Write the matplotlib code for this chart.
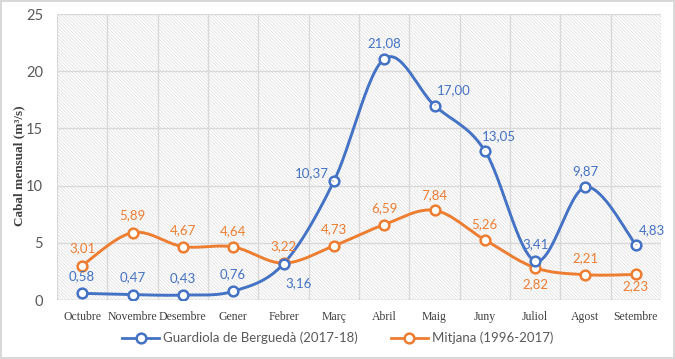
import numpy as np
import matplotlib
matplotlib.use("Agg")
import matplotlib.pyplot as plt
from matplotlib.lines import Line2D

# monthly discharge data
mesos = ["Octubre", "Novembre", "Desembre", "Gener", "Febrer", "Març",
         "Abril", "Maig", "Juny", "Juliol", "Agost", "Setembre"]
guardiola = [0.58, 0.47, 0.43, 0.76, 3.16, 10.37, 21.08, 17.00, 13.05, 3.41, 9.87, 4.83]
mitjana = [3.01, 5.89, 4.67, 4.64, 3.22, 4.73, 6.59, 7.84, 5.26, 2.82, 2.21, 2.23]
nom_guardiola = "Guardiola de Berguedà (2017-18)"
nom_mitjana = "Mitjana (1996-2017)"

# label offsets in pixels (dx, dy) and whether to draw a leader line
off_blue = [(0, 17), (0, 17), (0, 17), (0, 17), (15, -19), (-22, 8),
            (0, 16), (19, 15), (14, 15), (0, 17), (0, 16), (16, 15)]
lead_blue = [False, False, False, False, True, True, False, True, True, False, False, True]
off_orange = [(0, 17), (0, 17), (0, 16), (0, 16), (0, 17), (0, 17),
              (0, 16), (0, 15), (0, 16), (0, -16), (0, 17), (0, -12)]

BLUE = "#4472C4"
ORANGE = "#ED7D31"
GRID = "#D9D9D9"


def smooth(y, n=30):
    # Catmull-Rom style smoothing like Excel's smoothed lines
    y = np.asarray(y, float)
    x = np.arange(len(y), dtype=float)
    pts = np.column_stack([x, y])
    out = []
    for i in range(len(pts) - 1):
        p0 = pts[i - 1] if i > 0 else pts[i]
        p1 = pts[i]
        p2 = pts[i + 1]
        p3 = pts[i + 2] if i + 2 < len(pts) else pts[i + 1]
        c1 = p1 + (p2 - p0) / 6.0
        c2 = p2 - (p3 - p1) / 6.0
        t = np.linspace(0, 1, n)[:, None]
        seg = ((1 - t) ** 3) * p1 + 3 * ((1 - t) ** 2) * t * c1 + 3 * (1 - t) * t ** 2 * c2 + t ** 3 * p2
        out.append(seg if i == 0 else seg[1:])
    s = np.vstack(out)
    return s[:, 0], s[:, 1]


plt.rcParams["hatch.color"] = "#DCDCDC"
plt.rcParams["hatch.linewidth"] = 0.5

fig = plt.figure(figsize=(6.75, 3.59), dpi=100)
fig.patch.set_edgecolor("#D9D9D9")
fig.patch.set_linewidth(1.5)
ax = fig.add_axes([57 / 675, 1 - 300 / 359, (661 - 57) / 675, (300 - 14) / 359])
ax.patch.set_facecolor("white")
ax.patch.set_hatch("\\\\\\\\\\\\\\\\\\\\")
ax.patch.set_edgecolor("#DCDCDC")
ax.patch.set_linewidth(0)

x = np.arange(len(mesos))
ax.set_xlim(-0.5, len(mesos) - 0.5)
ax.set_ylim(0, 25)
ax.set_yticks(range(0, 26, 5))
ax.set_xticks(x)
ax.set_xticklabels(mesos, family="Liberation Serif", fontsize=8.5, color="#404040")
for lab in ax.get_yticklabels():
    lab.set_family("Lato")
    lab.set_fontsize(10.5)
    lab.set_color("#595959")
ax.tick_params(length=0, pad=10)
ax.tick_params(axis="x", pad=8)

for v in range(5, 26, 5):
    ax.axhline(v, color=GRID, lw=1, zorder=1)
for b in np.arange(-0.5, len(mesos), 1.0):
    ax.axvline(b, color=GRID, lw=1, zorder=1)
for s in ax.spines.values():
    s.set_visible(False)
ax.axhline(0, color="#BFBFBF", lw=1, zorder=1)

for vals, col, offs in [(mitjana, ORANGE, off_orange), (guardiola, BLUE, off_blue)]:
    sx, sy = smooth(vals)
    ax.plot(sx, sy, color=col, lw=2.1, zorder=3)
    ax.plot(x, vals, ls="none", marker="o", ms=7, mfc="white", mec=col, mew=1.8, zorder=4)

for i, v in enumerate(guardiola):
    dx, dy = off_blue[i]
    txt = f"{v:.2f}".replace(".", ",")
    kw = {}
    if lead_blue[i]:
        kw["arrowprops"] = dict(arrowstyle="-", color="#A6A6A6", lw=0.7, shrinkA=6, shrinkB=3)
    ax.annotate(txt, (x[i], v), xytext=(dx, dy), textcoords="offset pixels",
                ha="center", va="center", color=BLUE, fontsize=9.5, family="Lato", zorder=5, **kw)

for i, v in enumerate(mitjana):
    dx, dy = off_orange[i]
    txt = f"{v:.2f}".replace(".", ",")
    ax.annotate(txt, (x[i], v), xytext=(dx, dy), textcoords="offset pixels",
                ha="center", va="center", color=ORANGE, fontsize=9.5, family="Lato", zorder=5)

ax.set_ylabel("Cabal mensual (m³/s)", family="Liberation Serif", fontweight="bold",
              fontsize=9.5, color="#404040")
ax.yaxis.set_label_coords(-0.052, 0.47)

handles = [
    Line2D([], [], color=BLUE, lw=2, marker="o", ms=7, mfc="white", mec=BLUE, mew=1.8),
    Line2D([], [], color=ORANGE, lw=2, marker="o", ms=7, mfc="white", mec=ORANGE, mew=1.8),
]
fig.legend(handles, [nom_guardiola, nom_mitjana], loc="center", bbox_to_anchor=(0.5, 1 - 338 / 359),
           ncol=2, frameon=False, handlelength=2.8, columnspacing=2.5, handletextpad=0.3,
           prop={"family": "Lato", "size": 9.5}, labelcolor="#595959")

fig.savefig("out.png", dpi=100)
